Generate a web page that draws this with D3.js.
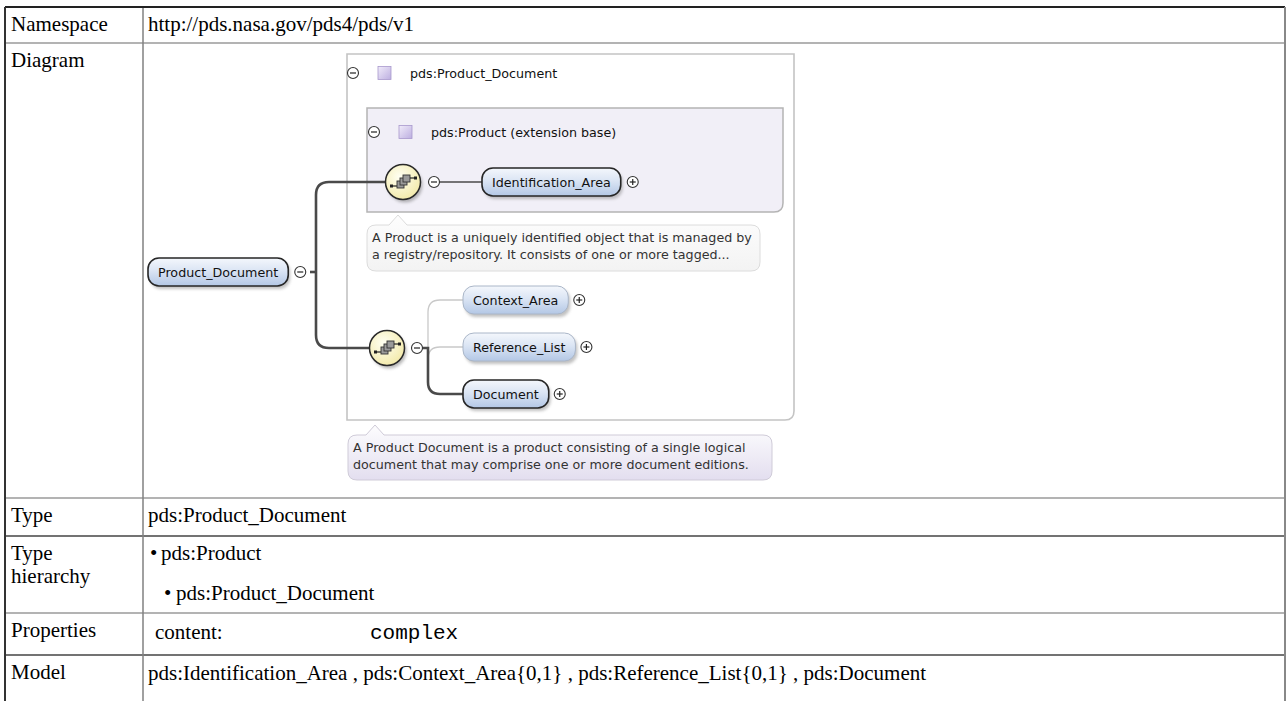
<!DOCTYPE html>
<html><head><meta charset="utf-8">
<script src="https://cdn.jsdelivr.net/npm/d3@7"></script>
<style>html,body{margin:0;padding:0;background:#fff;overflow:hidden}svg{display:block}</style>
</head><body>
<svg id="c" width="1287" height="701"></svg>
<script>
// ---------- data ----------
const rowLabels = ["Namespace","Diagram","Type","Type hierarchy","Properties","Model"];
const namespaceValue = "http://pds.nasa.gov/pds4/pds/v1";
const typeValue = "pds:Product_Document";
const hierarchyItems = ["pds:Product","pds:Product_Document"];
const propertyNames = ["content:"];
const propertyValues = ["complex"];
const modelItems = ["pds:Identification_Area","pds:Context_Area{0,1}","pds:Reference_List{0,1}","pds:Document"];
const rootElement = "Product_Document";
const typeHeaders = ["pds:Product_Document","pds:Product (extension base)"];
const baseChildren = ["Identification_Area"];
const ownChildren = ["Context_Area","Reference_List","Document"];
const ownChildOptional = [true,true,false];
const baseAnnotation = ["A Product is a uniquely identified object that is managed by","a registry/repository. It consists of one or more tagged..."];
const rootAnnotation = ["A Product Document is a product consisting of a single logical","document that may comprise one or more document editions."];

// ---------- setup ----------
const svg = d3.select("#c");
const defs = svg.append("defs");
function lin(id, stops, x2, y2){
  const g = defs.append("linearGradient").attr("id",id).attr("x1",0).attr("y1",0).attr("x2",x2).attr("y2",y2);
  stops.forEach(s=>g.append("stop").attr("offset",s[0]).attr("stop-color",s[1]).attr("stop-opacity",s[2]===undefined?1:s[2]));
}
lin("gBlue",[[0,"#f4f7fc"],[0.45,"#dbe5f4"],[1,"#b3c7e5"]],0,1);
lin("gPurple",[[0,"#f1ecfa"],[1,"#bcaee0"]],1,1);
lin("gNote",[[0,"#fdfdfe"],[1,"#e3deef"]],0,1);
lin("gNote1",[[0,"#fdfdfd"],[1,"#f3f3f3"]],0,1);
lin("gSep",[[0,"#bbb",0.1],[0.12,"#a8a8a8"],[0.55,"#c4c4c4"],[1,"#fff",0]],1,0);
const rg = defs.append("radialGradient").attr("id","gYellow").attr("cx","40%").attr("cy","35%").attr("r","70%");
rg.append("stop").attr("offset",0).attr("stop-color","#fffff2");
rg.append("stop").attr("offset",1).attr("stop-color","#f2e9a8");
defs.append("filter").attr("id","blur").attr("x","-20%").attr("y","-20%").attr("width","140%").attr("height","140%")
  .append("feGaussianBlur").attr("stdDeviation",1.4);

// ---------- table ----------
const TL = 5, TR = 1285, COL = 143;
const rowTops = [7,43,498,536,613,655];
const yRow = d3.scaleOrdinal().domain(rowLabels).range(rowTops);
const tableBottom = 730;
const serif = "'Liberation Serif','Times New Roman',serif";
const FS = 21;

const tg = svg.append("g");
const sepColors = ["#9a9a9a","#9a9a9a","#444","#9a9a9a","#444"];
tg.selectAll("line.row").data(rowLabels.slice(1)).join("line")
  .attr("x1",TL).attr("x2",TR).attr("y1",d=>yRow(d)).attr("y2",d=>yRow(d))
  .attr("stroke",(d,i)=>sepColors[i]).attr("stroke-width",1.5);
tg.append("line").attr("x1",COL).attr("x2",COL).attr("y1",rowTops[0]).attr("y2",tableBottom).attr("stroke","#808080").attr("stroke-width",1.5);
tg.append("line").attr("x1",TL).attr("x2",TR).attr("y1",rowTops[0]).attr("y2",rowTops[0]).attr("stroke","#222").attr("stroke-width",2);
tg.append("line").attr("x1",TL).attr("x2",TL).attr("y1",rowTops[0]).attr("y2",tableBottom).attr("stroke","#333").attr("stroke-width",2);
tg.append("line").attr("x1",TR).attr("x2",TR).attr("y1",rowTops[0]).attr("y2",tableBottom).attr("stroke","#888").attr("stroke-width",2);

const labelLines = rowLabels.map(l => l==="Type hierarchy" ? ["Type","hierarchy"] : [l]);
tg.selectAll("text.lab").data(rowLabels).join("text")
  .attr("x",11).attr("y",d=>yRow(d)+24)
  .attr("font-family",serif).attr("font-size",FS).attr("fill","#000")
  .each(function(d,i){
    const t = d3.select(this);
    labelLines[i].forEach((s,j)=>t.append("tspan").attr("x",11).attr("dy",j?23:0).text(s));
  });
const vx = 148;
function vtext(x,y,s,fam){ return tg.append("text").attr("x",x).attr("y",y).attr("font-family",fam||serif).attr("font-size",FS).attr("fill","#000").text(s); }
vtext(vx, yRow("Namespace")+24, namespaceValue);
vtext(vx, yRow("Type")+24, typeValue);
const hierX = [[150,161],[164,176]], hierDy = [24,64];
hierarchyItems.forEach((h,i)=>{
  vtext(hierX[i][0], yRow("Type hierarchy")+hierDy[i], "\u2022");
  vtext(hierX[i][1], yRow("Type hierarchy")+hierDy[i], h);
});
propertyNames.forEach((p,i)=>{
  vtext(155, yRow("Properties")+26, p);
  vtext(370, yRow("Properties")+26, propertyValues[i], "'Liberation Mono','Courier New',monospace");
});
vtext(vx, yRow("Model")+25, modelItems.join(" , "));

// ---------- diagram ----------
const sans = "'DejaVu Sans',Tahoma,Verdana,sans-serif";
const DFS = 12.7;
const dg = svg.append("g");

function roundBR(x,y,w,h,r){
  return `M${x},${y}H${x+w}V${y+h-r}Q${x+w},${y+h} ${x+w-r},${y+h}H${x}Z`;
}
dg.append("path").attr("d",roundBR(347,54,447,366,9)).attr("fill","#fff").attr("stroke","#c4c4c4").attr("stroke-width",1.6);
dg.append("path").attr("d",roundBR(367,108,416,104,9)).attr("fill","#f1eff7").attr("stroke","#b4b4b4").attr("stroke-width",1.5);

function circleIcon(x,y,plus){
  const g = dg.append("g");
  g.append("circle").attr("cx",x).attr("cy",y).attr("r",5.5).attr("fill","#fff").attr("stroke","#333").attr("stroke-width",1.1);
  g.append("line").attr("x1",x-3).attr("x2",x+3).attr("y1",y).attr("y2",y).attr("stroke","#222").attr("stroke-width",1.2);
  if(plus) g.append("line").attr("x1",x).attr("x2",x).attr("y1",y-3).attr("y2",y+3).attr("stroke","#222").attr("stroke-width",1.2);
}
function header(x,y,label,sepX1,sepX2){
  circleIcon(x,y,false);
  dg.append("rect").attr("x",x+25).attr("y",y-6.5).attr("width",13).attr("height",13)
    .attr("fill","url(#gPurple)").attr("stroke","#a898cc").attr("stroke-width",0.8);
  dg.append("text").attr("x",x+57).attr("y",y+4.5).attr("font-family",sans).attr("font-size",DFS).attr("fill","#111").text(label);
  dg.append("line").attr("x1",sepX1).attr("x2",sepX2).attr("y1",y+19).attr("y2",y+19).attr("stroke","url(#gSep)").attr("stroke-width",2.2);
}
header(353,73,typeHeaders[0],350,690);
header(374,132,typeHeaders[1],369,684);

function bubble(x,yc,label,mandatory){
  const h = 28;
  const t = dg.append("text").attr("font-family",sans).attr("font-size",DFS).text(label);
  const tw = t.node().getComputedTextLength();
  const w = tw + 20;
  dg.append("rect").attr("x",x+2).attr("y",yc-h/2+3).attr("width",w).attr("height",h).attr("rx",11)
    .attr("fill","#777").attr("opacity",0.45).attr("filter","url(#blur)");
  dg.append("rect").attr("x",x).attr("y",yc-h/2).attr("width",w).attr("height",h).attr("rx",11)
    .attr("fill","url(#gBlue)").attr("stroke",mandatory?"#262626":"#aab6c8").attr("stroke-width",mandatory?1.6:1);
  t.raise().attr("x",x+10).attr("y",yc+4.5).attr("fill","#111");
  return x+w;
}
function compositor(cx,cy){
  dg.append("circle").attr("cx",cx+2).attr("cy",cy+3).attr("r",17.5).attr("fill","#666").attr("opacity",0.45).attr("filter","url(#blur)");
  dg.append("circle").attr("cx",cx).attr("cy",cy).attr("r",17.5).attr("fill","url(#gYellow)").attr("stroke","#2a2a2a").attr("stroke-width",1.5);
  const g = dg.append("g");
  g.append("line").attr("x1",cx-11).attr("x2",cx-5).attr("y1",cy+4).attr("y2",cy+4).attr("stroke","#222").attr("stroke-width",1.2);
  g.append("rect").attr("x",cx-13).attr("y",cy+2.5).attr("width",3).attr("height",3).attr("fill","#222");
  [[-6,-1],[-3,-4],[0,-7]].forEach(o=>g.append("rect").attr("x",cx+o[0]).attr("y",cy+o[1]).attr("width",7).attr("height",7)
    .attr("fill","#9a9a9a").attr("stroke","#333").attr("stroke-width",0.9));
  g.append("line").attr("x1",cx+7).attr("x2",cx+12).attr("y1",cy-4).attr("y2",cy-4).attr("stroke","#222").attr("stroke-width",1.2);
  g.append("rect").attr("x",cx+11).attr("y",cy-5.5).attr("width",3).attr("height",3).attr("fill","#222");
}
function note(x,y,w,h,px,lines,fill,stroke){
  const r = 9;
  const d = `M${x+r},${y}H${px-9}L${px},${y-10}L${px+9},${y}H${x+w-r}Q${x+w},${y} ${x+w},${y+r}V${y+h-r}Q${x+w},${y+h} ${x+w-r},${y+h}H${x+r}Q${x},${y+h} ${x},${y+h-r}V${y+r}Q${x},${y} ${x+r},${y}Z`;
  dg.append("path").attr("d",d).attr("fill",fill).attr("stroke",stroke).attr("stroke-width",1);
  dg.selectAll(null).data(lines).join("text").attr("x",x+5).attr("y",(l,i)=>y+17+i*16.5)
    .attr("font-family",sans).attr("font-size",DFS).attr("fill","#333").text(l=>l);
}

const dark = "#4a4a4a", light = "#c9c9c9";
dg.append("path").attr("d","M310,272H316").attr("stroke",dark).attr("stroke-width",2.6).attr("fill","none");
dg.append("path").attr("d","M388,182H329Q316,182 316,195V335Q316,348 329,348H372").attr("stroke",dark).attr("stroke-width",2.6).attr("fill","none");
dg.append("line").attr("x1",439).attr("x2",484).attr("y1",182).attr("y2",182).attr("stroke",dark).attr("stroke-width",1.6);
const yChild = d3.scalePoint().domain(ownChildren).range([300,394]);
const brX = 428, childX = 463;
ownChildren.forEach((c,i)=>{
  const y = yChild(c);
  let d;
  if (y < 348) d = `M${brX},348V${y+12}Q${brX},${y} ${brX+12},${y}H${childX}`;
  else if (y === 348) d = `M${brX},348H${childX}`;
  else d = `M${brX-6},348H${brX}V${y-12}Q${brX},${y} ${brX+12},${y}H${childX}`;
  dg.append("path").attr("d",d).attr("fill","none")
    .attr("stroke",ownChildOptional[i]?light:dark).attr("stroke-width",ownChildOptional[i]?1.3:2.6);
});

const rootRight = bubble(148,272,rootElement,true);
circleIcon(rootRight+12,272,false);
compositor(403,182);
circleIcon(434,182,false);
baseChildren.forEach(c=>{ const r = bubble(482,182,c,true); circleIcon(r+12,182,true); });
compositor(387,348);
circleIcon(417,348,false);
ownChildren.forEach((c,i)=>{ const r = bubble(childX,yChild(c),c,!ownChildOptional[i]); circleIcon(r+11,yChild(c),true); });

note(367,225,393,46,398,baseAnnotation,"url(#gNote1)","#dcdcdc");
note(348,435,424,45,375,rootAnnotation,"url(#gNote)","#cfcbd8");
</script>
</body></html>
